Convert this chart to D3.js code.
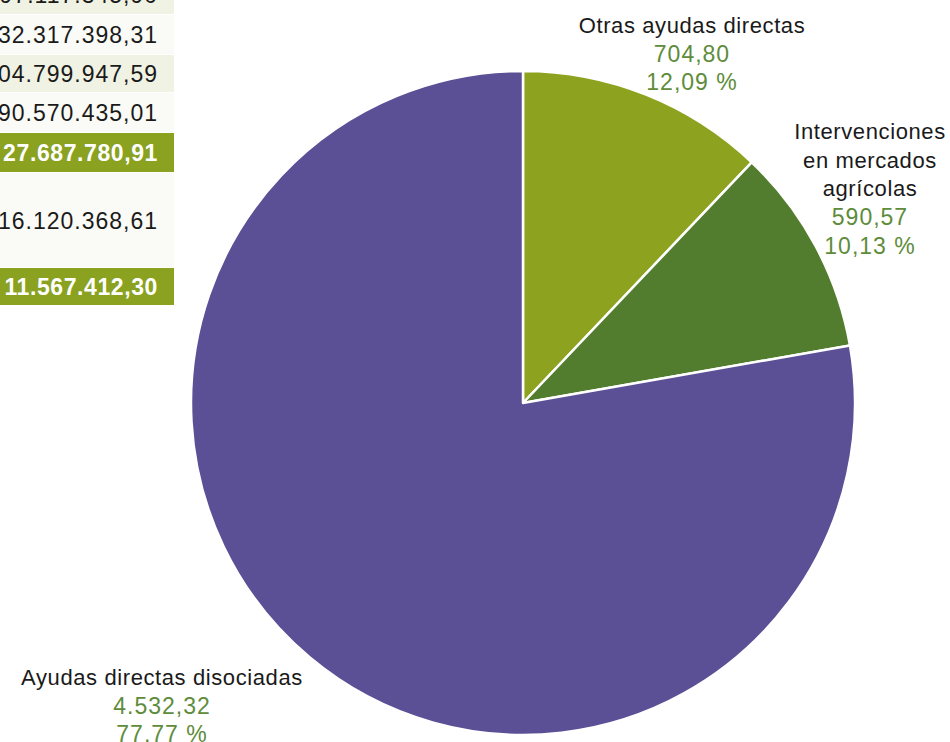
<!DOCTYPE html>
<html>
<head>
<meta charset="utf-8">
<script src="https://cdn.jsdelivr.net/npm/d3@7"></script>
<style>
  html, body { margin: 0; padding: 0; background: #ffffff; }
  svg { display: block; }
  text { font-family: "Liberation Sans", Arial, sans-serif; }
</style>
</head>
<body>
<svg id="chart" width="950" height="742"></svg>
<script>
// ---- Data ----
const categories = ["Otras ayudas directas", "Intervenciones en mercados agrícolas", "Ayudas directas disociadas"];
const values = [704.80, 590.57, 4532.32];
const valueLabels = ["704,80", "590,57", "4.532,32"];
const percentLabels = ["12,09 %", "10,13 %", "77,77 %"];
const nameLines = [["Otras ayudas directas"], ["Intervenciones", "en mercados", "agrícolas"], ["Ayudas directas disociadas"]];

// Partial table visible on the left (cut off)
const tableValues = ["97.117.345,90", "32.317.398,31", "04.799.947,59", "90.570.435,01", "27.687.780,91", "16.120.368,61", "11.567.412,30"];
const tableKinds = ["odd", "even", "odd", "even", "total", "even", "total"];

// ---- Styles / layout ----
const colors = ["#8da31f", "#527d2e", "#5b4f96"];
const svg = d3.select("#chart");

// Table
const rowTops = [-25, 15, 55, 93, 133, 173, 268];
const rowBottoms = [15, 55, 93, 133, 173, 268, 306];
const fills = { odd: "#f0f2e3", even: "#fafbf6", total: "#8aa21f" };
const tbl = svg.append("g");
tableValues.forEach((v, i) => {
  const k = tableKinds[i];
  tbl.append("rect")
    .attr("x", -10).attr("y", rowTops[i])
    .attr("width", 184).attr("height", rowBottoms[i] - rowTops[i] - 1)
    .attr("fill", fills[k]);
  tbl.append("text")
    .attr("x", 158)
    .attr("y", (rowTops[i] + rowBottoms[i]) / 2)
    .attr("dy", "0.36em")
    .attr("text-anchor", "end")
    .attr("font-size", 23)
    .attr("letter-spacing", k === "total" ? 0.6 : 1)
    .attr("font-weight", k === "total" ? "bold" : "normal")
    .attr("fill", k === "total" ? "#ffffff" : "#1a1a1a")
    .text(v);
});

// Pie
const cx = 523, cy = 403, r = 332;
const pie = d3.pie().sort(null).startAngle(0).endAngle(2 * Math.PI);
const arcs = pie(values);
const arc = d3.arc().innerRadius(0).outerRadius(r);
const g = svg.append("g").attr("transform", `translate(${cx},${cy})`);
g.selectAll("path").data(arcs).enter().append("path")
  .attr("d", arc)
  .attr("fill", (d, i) => colors[i])
  .attr("stroke", "#ffffff")
  .attr("stroke-width", 2.5)
  .attr("stroke-linejoin", "round");

// Labels
const labelPos = [
  { x: 692, y: 25 },
  { x: 870, y: 131 },
  { x: 162, y: 677 }
];
const lh = 28.6;
categories.forEach((c, i) => {
  const lines = nameLines[i];
  const lg = svg.append("g");
  let y = labelPos[i].y;
  lines.forEach(l => {
    lg.append("text").attr("x", labelPos[i].x).attr("y", y).attr("dy", "0.36em")
      .attr("text-anchor", "middle").attr("font-size", 22).attr("letter-spacing", 0.6)
      .attr("fill", "#1a1a1a").text(l);
    y += lh;
  });
  [valueLabels[i], percentLabels[i]].forEach(t => {
    lg.append("text").attr("x", labelPos[i].x).attr("y", y).attr("dy", "0.36em")
      .attr("text-anchor", "middle").attr("font-size", 23).attr("letter-spacing", 1)
      .attr("fill", "#5e8c3b").text(t);
    y += lh;
  });
});
</script>
</body>
</html>
